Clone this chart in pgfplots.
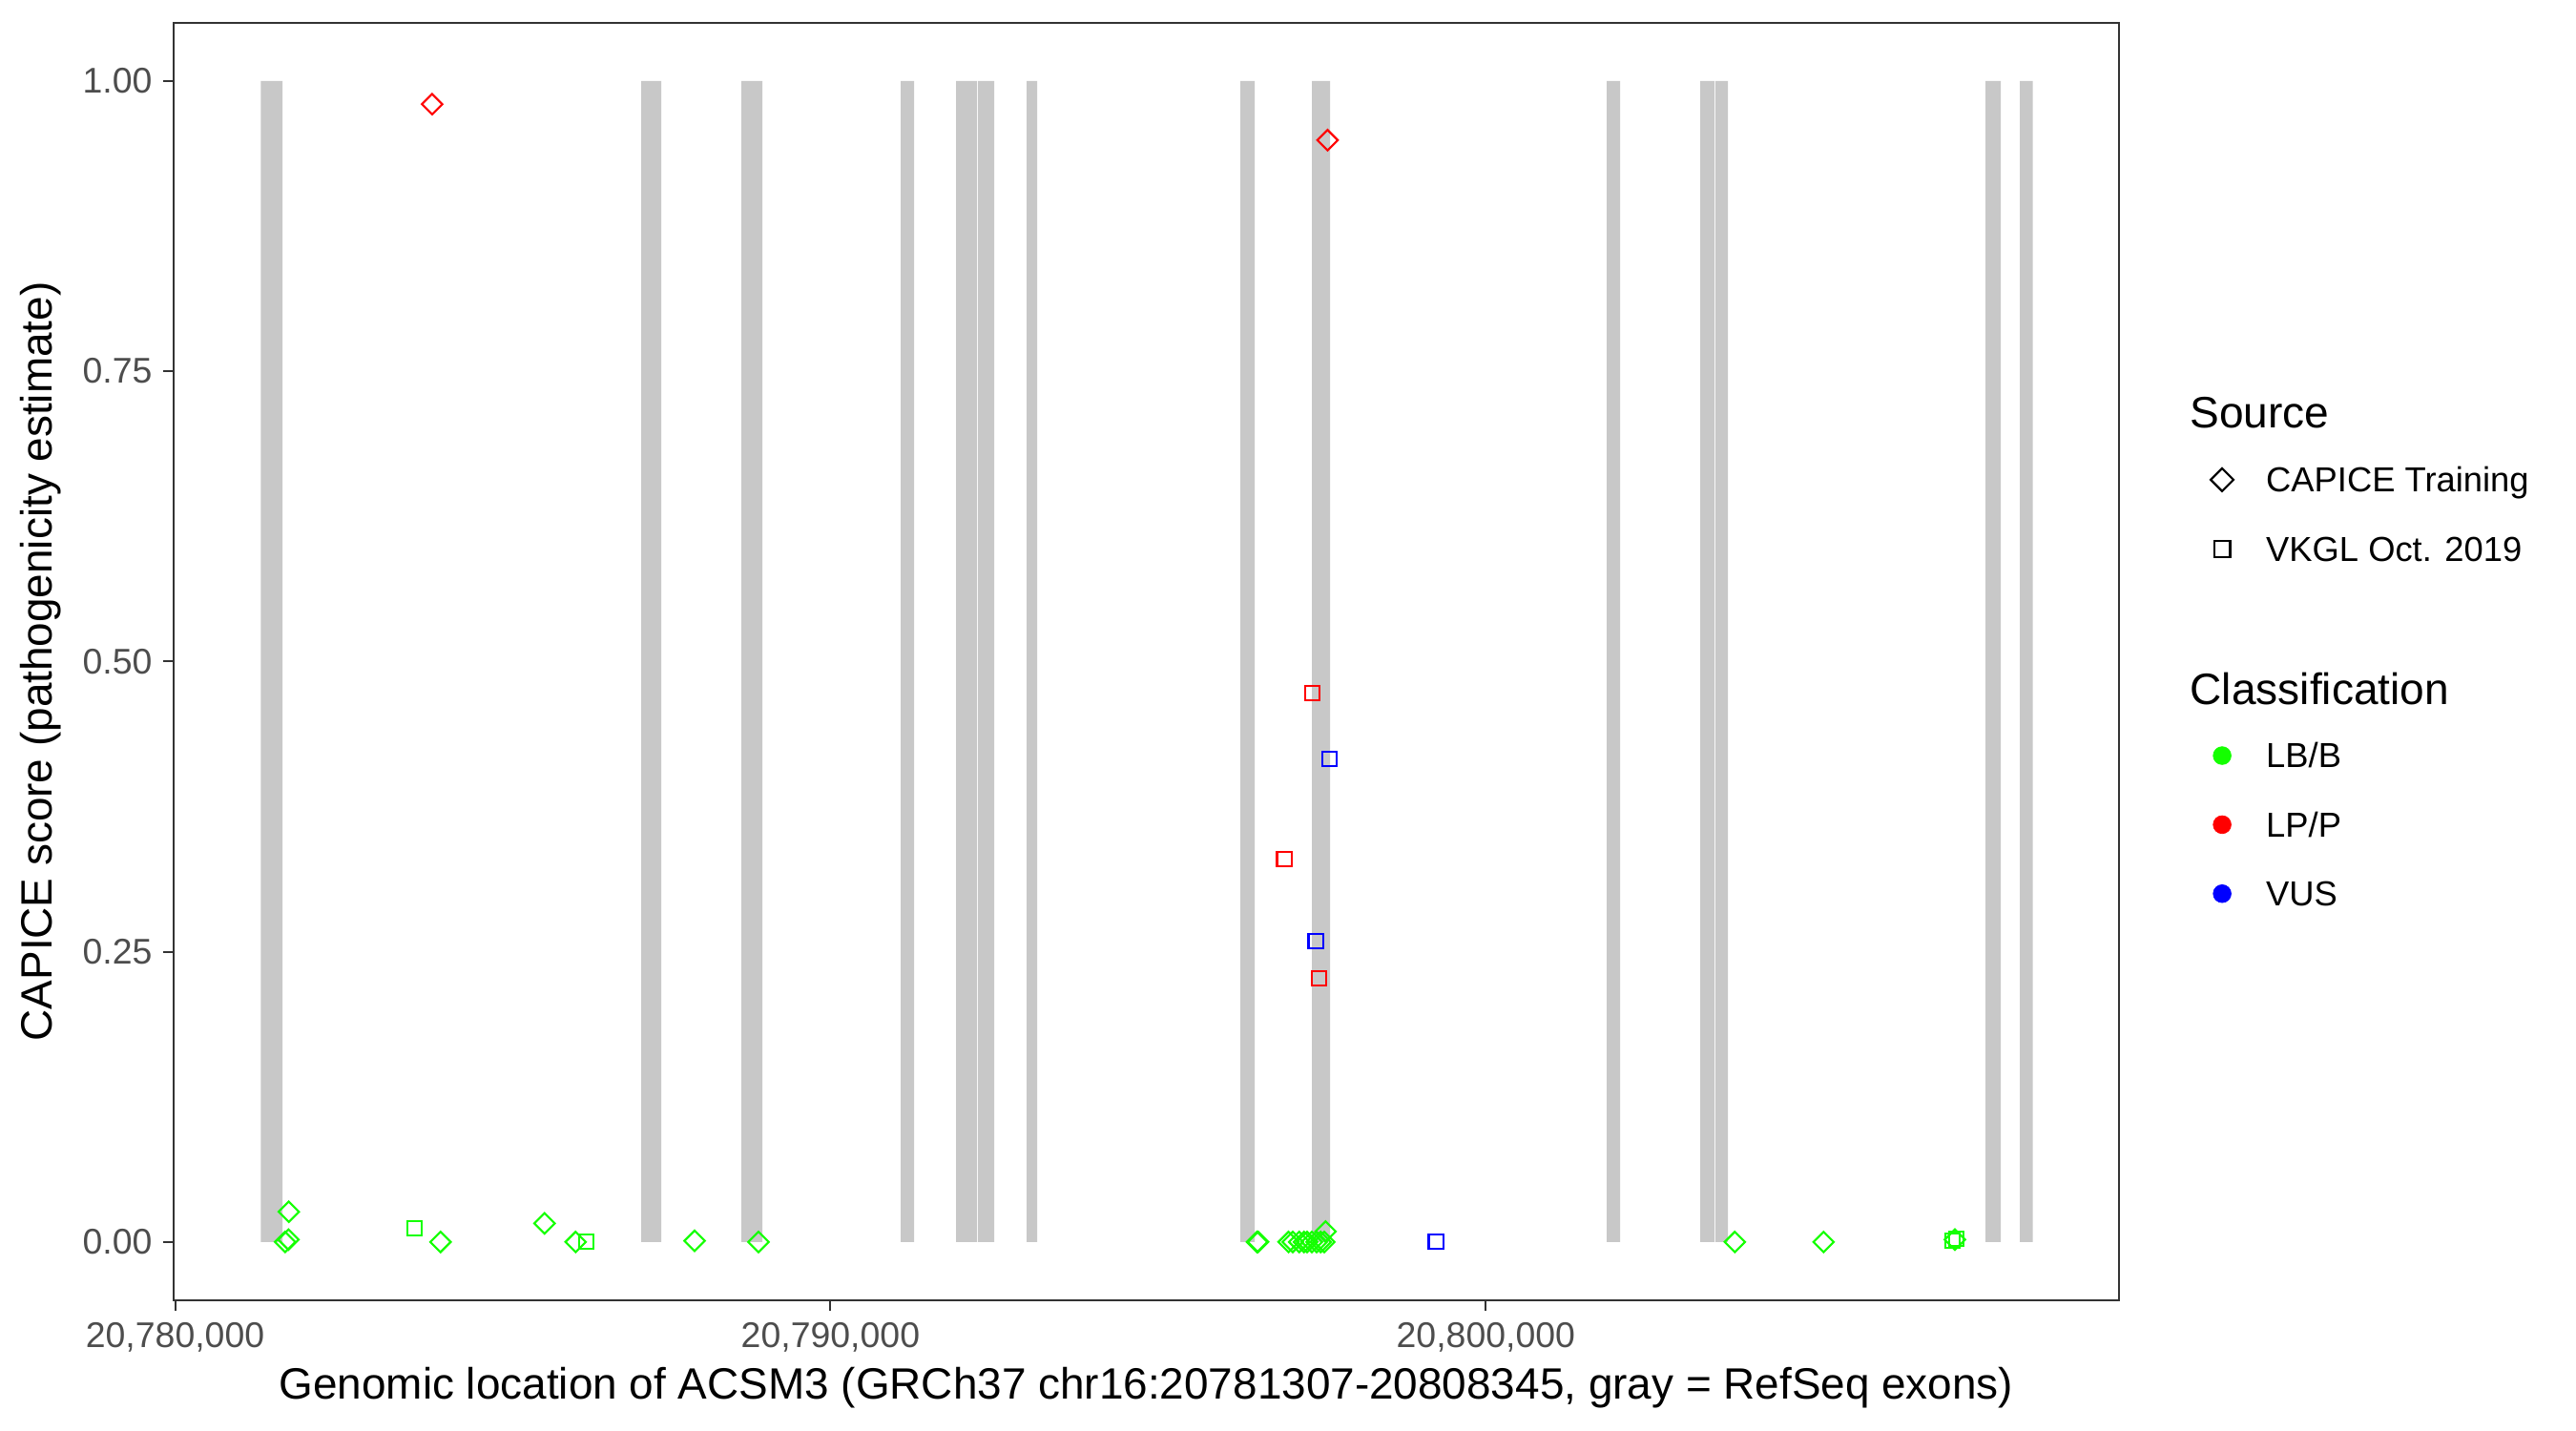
\documentclass[border=0pt]{standalone}
\usepackage{fontspec}
\setmainfont{Liberation Sans}
\usepackage{pgfplots}
\pgfplotsset{compat=1.18}
\usepackage{pgfplotstable}

\definecolor{exon}{RGB}{200,200,200}
\definecolor{lbb}{RGB}{20,255,0}
\definecolor{lpp}{RGB}{255,0,0}
\definecolor{vus}{RGB}{0,0,255}
\definecolor{grey20}{RGB}{51,51,51}
\definecolor{grey30}{RGB}{77,77,77}

% RefSeq exons: each exon is (start,0)(start,1)(end,1)(end,0), then a break
\pgfplotstableread{
x y
20781307 0
20781307 1
20781638 1
20781638 0
20781638 nan
20787112 0
20787112 1
20787417 1
20787417 0
20787417 nan
20788640 0
20788640 1
20788961 1
20788961 0
20788961 nan
20791072 0
20791072 1
20791275 1
20791275 0
20791275 nan
20791916 0
20791916 1
20792236 1
20792236 0
20792236 nan
20792251 0
20792251 1
20792498 1
20792498 0
20792498 nan
20792993 0
20792993 1
20793153 1
20793153 0
20793153 nan
20796254 0
20796254 1
20796473 1
20796473 0
20796473 nan
20797346 0
20797346 1
20797623 1
20797623 0
20797623 nan
20801844 0
20801844 1
20802049 1
20802049 0
20802049 nan
20803271 0
20803271 1
20803490 1
20803490 0
20803490 nan
20803504 0
20803504 1
20803693 1
20803693 0
20803693 nan
20807624 0
20807624 1
20807857 1
20807857 0
20807857 nan
20808148 0
20808148 1
20808345 1
20808345 0
}\exons

% CAPICE Training, LB/B
\pgfplotstableread{
x y
20781735 0.026
20781679 0.000
20781730 0.002
20784050 0.000
20785637 0.016
20786112 0.000
20787927 0.001
20788902 0.000
20796509 0.000
20796525 0.000
20796990 0.000
20797054 0.000
20797153 0.000
20797225 0.000
20797273 0.000
20797346 0.000
20797419 0.000
20797480 0.000
20797535 0.000
20797554 0.009
20803800 0.000
20805154 0.000
20807158 0.002
}\trainlbb

% CAPICE Training, LP/P
\pgfplotstableread{
x y
20783922 0.980
20797585 0.949
}\trainlpp

% VKGL, LB/B
\pgfplotstableread{
x y
20783651 0.012
20786275 0.000
20807125 0.001
20807180 0.003
}\vkgllbb

% VKGL, LP/P
\pgfplotstableread{
x y
20797351 0.473
20796924 0.330
20797452 0.227
}\vkgllpp

% VKGL, VUS
\pgfplotstableread{
x y
20797612 0.416
20797404 0.259
20799239 0.000
}\vkglvus

\pgfplotsset{
  legimg/.style={legend image code/.code={%
      \path[draw=none,fill=none] (-6pt,-2pt) rectangle (6pt,2pt);
      \draw[##1] plot coordinates {(0pt,0pt)};}},
  legbox/.style={legend cell align=left,
    legend style={draw=none, fill=none, inner xsep=0pt, inner ysep=0pt,
      outer sep=0pt, row sep=0pt, column sep=6.8pt,
      cells={anchor=west},
      font=\fontsize{10.1}{12}\selectfont,
      nodes={inner sep=0pt, outer sep=0pt, text height=13.63pt, text depth=6.47pt},
      anchor=north west}},
  pt/.style={only marks, mark=square, mark size=2.1pt, line width=0.6pt, forget plot},
}

\begin{document}
\begin{tikzpicture}
\useasboundingbox (-50.56pt,-38.14pt) rectangle (699.44pt,378.53pt);
\begin{axis}[
  at={(0pt,0pt)}, anchor=south west,
  scale only axis, width=566.39pt, height=371.86pt,
  x coord trafo/.code={\edef\pgfmathresult{\the\numexpr#1-20780000\relax}},
  xmin=20779978, xmax=20809662, ymin=-0.05, ymax=1.05,
  scaled x ticks=false, scaled y ticks=false,
  xtick={20780000,20790000,20800000},
  xticklabels={{20,780,000},{20,790,000},{20,800,000}},
  ytick={0,0.25,0.5,0.75,1},
  yticklabels={0.00,0.25,0.50,0.75,1.00},
  tick align=outside, tickpos=left,
  major tick length=3.06pt,
  tick style={grey20, line width=0.55pt},
  axis line style={grey20, line width=0.55pt},
  tick label style={font=\fontsize{10.4}{12}\selectfont, text=grey30, inner sep=0pt},
  xticklabel style={anchor=north, yshift=-3.3pt},
  yticklabel style={anchor=east, xshift=-3.0pt},
  xlabel={Genomic location of ACSM3 (GRCh37 chr16:20781307-20808345, gray = RefSeq exons)},
  ylabel={CAPICE score (pathogenicity estimate)},
  label style={font=\fontsize{12.75}{15}\selectfont, inner sep=0pt},
  xlabel style={at={(axis description cs:0.5,-0.0772)}, anchor=base},
  ylabel style={at={(axis description cs:-0.0625,0.5)}, anchor=base, rotate=0},
  unbounded coords=jump,
  legimg, legbox,
  legend style={at={(axis description cs:1.0424,0.6693)}},
  clip=true,
]
\addplot[fill=exon, draw=none, forget plot] table {\exons};
\addplot[pt, color=lbb, mark options={rotate=45}] table {\trainlbb};
\addplot[pt, color=lpp, mark options={rotate=45}] table {\trainlpp};
\addplot[pt, color=lbb] table {\vkgllbb};
\addplot[pt, color=lpp] table {\vkgllpp};
\addplot[pt, color=vus] table {\vkglvus};
\addlegendimage{only marks, mark=square, mark size=2.35pt, black, line width=0.6pt, mark options={rotate=45}}
\addlegendentry{CAPICE Training}
\addlegendimage{only marks, mark=square, mark size=2.35pt, black, line width=0.6pt}
\addlegendentry{VKGL Oct. 2019}
\end{axis}
\begin{axis}[
  at={(0pt,0pt)}, anchor=south west,
  scale only axis, width=566.39pt, height=371.86pt,
  hide axis, xmin=0, xmax=1, ymin=0, ymax=1,
  legimg, legbox,
  legend style={at={(axis description cs:1.0424,0.4533)}},
]
\addlegendimage{only marks, mark=*, mark size=2.6pt, draw=lbb, fill=lbb, line width=0.2pt}
\addlegendentry{LB/B}
\addlegendimage{only marks, mark=*, mark size=2.6pt, draw=lpp, fill=lpp, line width=0.2pt}
\addlegendentry{LP/P}
\addlegendimage{only marks, mark=*, mark size=2.6pt, draw=vus, fill=vus, line width=0.2pt}
\addlegendentry{VUS}
\end{axis}
\node[anchor=base west, inner sep=0pt, font=\fontsize{12.8}{15}\selectfont] at (586.9pt,253.9pt) {Source};
\node[anchor=base west, inner sep=0pt, font=\fontsize{12.8}{15}\selectfont] at (586.9pt,173.4pt) {Classification};
\end{tikzpicture}
\end{document}
